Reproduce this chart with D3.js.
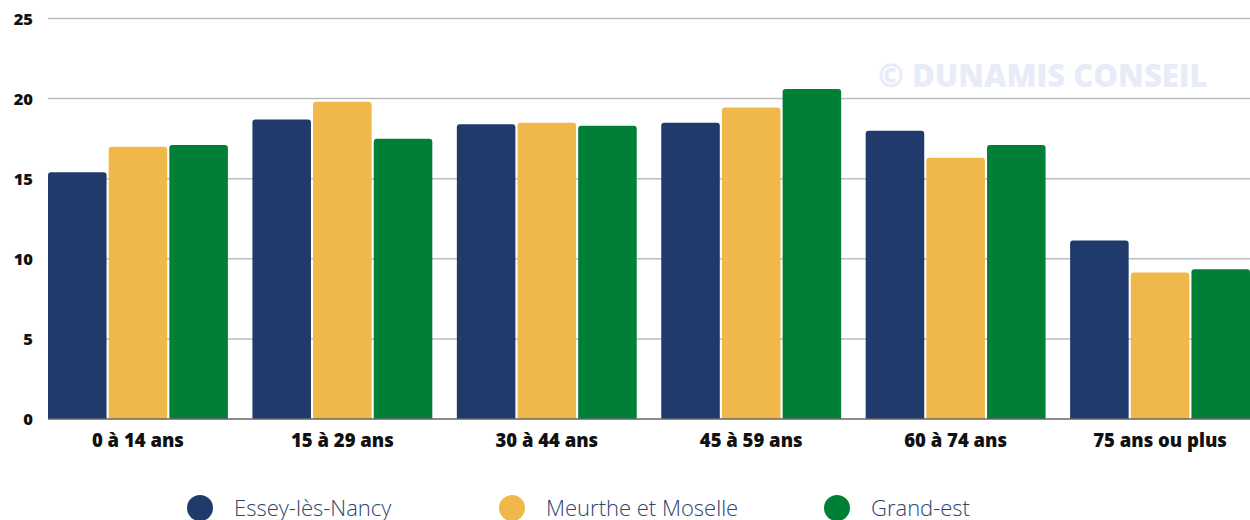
<!DOCTYPE html>
<html lang="fr">
<head>
<meta charset="UTF-8">
<title>Population par tranche d'âge</title>
<script src="https://cdn.jsdelivr.net/npm/d3@7"></script>
<style>
  body { margin: 0; background: #fff; }
  svg { display: block; }
</style>
</head>
<body>
<svg id="chart" width="1250" height="520"></svg>
<script>
// age groups
var categories = ["0 à 14 ans", "15 à 29 ans", "30 à 44 ans", "45 à 59 ans", "60 à 74 ans", "75 ans ou plus"];
var seriesNames = ["Essey-lès-Nancy", "Meurthe et Moselle", "Grand-est"];
var essey = [15.4, 18.7, 18.4, 18.5, 18.0, 11.15];
var meurthe = [17.0, 19.8, 18.5, 19.45, 16.3, 9.15];
var grandEst = [17.1, 17.5, 18.3, 20.6, 17.1, 9.35];
var yTicks = [0, 5, 10, 15, 20, 25];
var colors = ["#1f3a6b", "#f0b74a", "#008037"];

var series = [essey, meurthe, grandEst];

var svg = d3.select("#chart");
var plotLeft = 48, plotRight = 1250, plotTop = 18.5, plotBottom = 419;

var x = d3.scaleBand().domain(categories).range([plotLeft, plotRight])
    .paddingInner(0.12).paddingOuter(0);
var xi = d3.scaleBand().domain(d3.range(series.length)).range([0, x.bandwidth()])
    .paddingInner(0.035);
var y = d3.scaleLinear().domain([0, 25]).range([plotBottom, plotTop]);

// watermark
svg.append("text")
    .attr("x", 1043).attr("y", 87)
    .attr("text-anchor", "middle")
    .attr("font-family", "'Open Sans', sans-serif")
    .attr("font-weight", 800)
    .attr("font-size", 31)
    .attr("fill", "#e7ecf8")
    .text("© DUNAMIS CONSEIL");

// grid lines
svg.append("g").selectAll("line")
    .data(yTicks.filter(function(t){ return t > 0; }))
    .enter().append("line")
    .attr("x1", plotLeft).attr("x2", plotRight)
    .attr("y1", function(d){ return y(d); })
    .attr("y2", function(d){ return y(d); })
    .attr("stroke", "#bdbdbd").attr("stroke-width", 1.5);

// y labels
svg.append("g").selectAll("text")
    .data(yTicks)
    .enter().append("text")
    .attr("x", 33)
    .attr("y", function(d){ return y(d) + 6; })
    .attr("text-anchor", "end")
    .attr("font-family", "'Open Sans', sans-serif")
    .attr("font-weight", 800)
    .attr("font-size", 16.5)
    .attr("fill", "#111")
    .text(function(d){ return d; });

// bars, rounded on top only
function barPath(x0, w, yTop, yBot, r) {
    r = Math.min(r, (yBot - yTop) / 2, w / 2);
    return "M" + x0 + "," + yBot +
        "V" + (yTop + r) +
        "Q" + x0 + "," + yTop + " " + (x0 + r) + "," + yTop +
        "H" + (x0 + w - r) +
        "Q" + (x0 + w) + "," + yTop + " " + (x0 + w) + "," + (yTop + r) +
        "V" + yBot + "Z";
}

var groups = svg.append("g").selectAll("g")
    .data(categories)
    .enter().append("g")
    .attr("transform", function(d){ return "translate(" + x(d) + ",0)"; });

groups.selectAll("path")
    .data(function(d, i){ return series.map(function(s, k){ return {k: k, v: s[i]}; }); })
    .enter().append("path")
    .attr("d", function(d){ return barPath(xi(d.k), xi.bandwidth(), y(d.v), y(0), 3); })
    .attr("fill", function(d){ return colors[d.k]; });

// baseline
svg.append("line")
    .attr("x1", plotLeft).attr("x2", plotRight)
    .attr("y1", plotBottom).attr("y2", plotBottom)
    .attr("stroke", "#666").attr("stroke-width", 1.5);

// x labels
svg.append("g").selectAll("text")
    .data(categories)
    .enter().append("text")
    .attr("x", function(d){ return x(d) + x.bandwidth() / 2; })
    .attr("y", 447)
    .attr("text-anchor", "middle")
    .attr("font-family", "'Open Sans', sans-serif")
    .attr("font-weight", 800)
    .attr("font-size", 18.5)
    .attr("fill", "#111")
    .text(function(d){ return d; });

// legend
var legendX = [200, 512, 837];
var legend = svg.append("g").selectAll("g")
    .data(seriesNames)
    .enter().append("g")
    .attr("transform", function(d, i){ return "translate(" + legendX[i] + ",508)"; });
legend.append("circle").attr("r", 13)
    .attr("fill", function(d, i){ return colors[i]; });
legend.append("text")
    .attr("x", 34).attr("y", 8)
    .attr("font-family", "'Open Sans', Lato, sans-serif")
    .attr("font-weight", 300)
    .attr("font-size", 22)
    .attr("fill", "#2d4470")
    .text(function(d){ return d; });
</script>
</body>
</html>
